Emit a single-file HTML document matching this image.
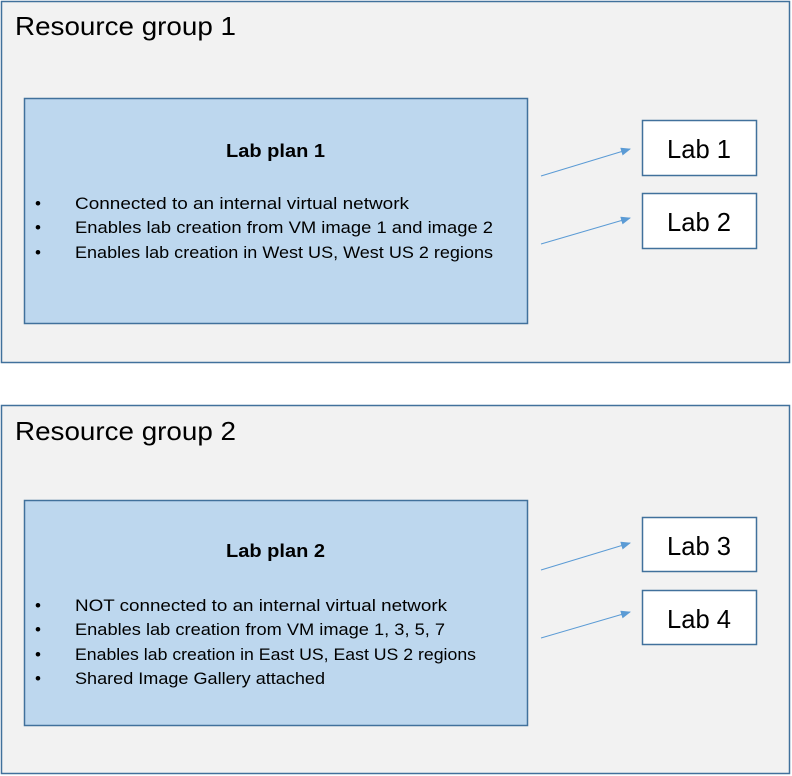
<!DOCTYPE html>
<html><head><meta charset="utf-8"><style>html,body{margin:0;padding:0;background:#fff;}svg{display:block;}text{font-family:"Liberation Sans",sans-serif;fill:#000;}</style></head>
<body>
<svg width="792" height="776" viewBox="0 0 792 776" xmlns="http://www.w3.org/2000/svg">
<defs><marker id="a" markerWidth="10" markerHeight="8" refX="9" refY="4" orient="auto" markerUnits="userSpaceOnUse"><path d="M0,0 L10,4 L0,8 z" fill="#5b9bd5"/></marker></defs>
<!-- RG1 -->
<rect x="1.5" y="1.5" width="788" height="361" fill="#f2f2f2" stroke="#41719c" stroke-width="1.5"/>
<text x="15" y="35" font-size="26" textLength="221" lengthAdjust="spacingAndGlyphs">Resource group  1</text>
<rect x="24.5" y="98.5" width="503" height="225" fill="#bdd7ee" stroke="#41719c" stroke-width="1.5"/>
<text x="226" y="157" font-size="18" font-weight="bold" textLength="99" lengthAdjust="spacingAndGlyphs">Lab plan 1</text>
<g font-size="17">
<text x="35" y="209">•</text><text x="75" y="209" textLength="334" lengthAdjust="spacingAndGlyphs">Connected to an internal virtual network</text>
<text x="35" y="233">•</text><text x="75" y="233" textLength="418" lengthAdjust="spacingAndGlyphs">Enables lab creation from VM image 1 and image 2</text>
<text x="35" y="258">•</text><text x="75" y="258" textLength="418" lengthAdjust="spacingAndGlyphs">Enables lab creation in West US, West US 2 regions</text>
</g>
<rect x="642.5" y="120.5" width="114" height="55" fill="#fff" stroke="#41719c" stroke-width="1.5"/>
<rect x="642.5" y="193.5" width="114" height="55" fill="#fff" stroke="#41719c" stroke-width="1.5"/>
<text x="667" y="158" font-size="26" textLength="64" lengthAdjust="spacingAndGlyphs">Lab 1</text>
<text x="667" y="231" font-size="26" textLength="64" lengthAdjust="spacingAndGlyphs">Lab 2</text>
<line x1="541" y1="176" x2="630" y2="149" stroke="#5b9bd5" stroke-width="1" marker-end="url(#a)"/>
<line x1="541" y1="244" x2="630" y2="218" stroke="#5b9bd5" stroke-width="1" marker-end="url(#a)"/>
<!-- RG2 -->
<rect x="1.5" y="405.5" width="788" height="368" fill="#f2f2f2" stroke="#41719c" stroke-width="1.5"/>
<text x="15" y="440" font-size="26" textLength="221" lengthAdjust="spacingAndGlyphs">Resource group  2</text>
<rect x="24.5" y="500.5" width="503" height="225" fill="#bdd7ee" stroke="#41719c" stroke-width="1.5"/>
<text x="226" y="557" font-size="18" font-weight="bold" textLength="99" lengthAdjust="spacingAndGlyphs">Lab plan 2</text>
<g font-size="17">
<text x="35" y="611">•</text><text x="75" y="611" textLength="372" lengthAdjust="spacingAndGlyphs">NOT connected to an internal virtual network</text>
<text x="35" y="635">•</text><text x="75" y="635" textLength="370" lengthAdjust="spacingAndGlyphs">Enables lab creation from VM image 1, 3, 5, 7</text>
<text x="35" y="660">•</text><text x="75" y="660" textLength="401" lengthAdjust="spacingAndGlyphs">Enables lab creation in East US, East US 2 regions</text>
<text x="35" y="684">•</text><text x="75" y="684" textLength="250" lengthAdjust="spacingAndGlyphs">Shared Image Gallery attached</text>
</g>
<rect x="642.5" y="517.5" width="114" height="54" fill="#fff" stroke="#41719c" stroke-width="1.5"/>
<rect x="642.5" y="590.5" width="114" height="54" fill="#fff" stroke="#41719c" stroke-width="1.5"/>
<text x="667" y="555" font-size="26" textLength="64" lengthAdjust="spacingAndGlyphs">Lab 3</text>
<text x="667" y="628" font-size="26" textLength="64" lengthAdjust="spacingAndGlyphs">Lab 4</text>
<line x1="541" y1="570" x2="630" y2="543" stroke="#5b9bd5" stroke-width="1" marker-end="url(#a)"/>
<line x1="541" y1="638" x2="630" y2="612" stroke="#5b9bd5" stroke-width="1" marker-end="url(#a)"/>
</svg>
</body></html>
